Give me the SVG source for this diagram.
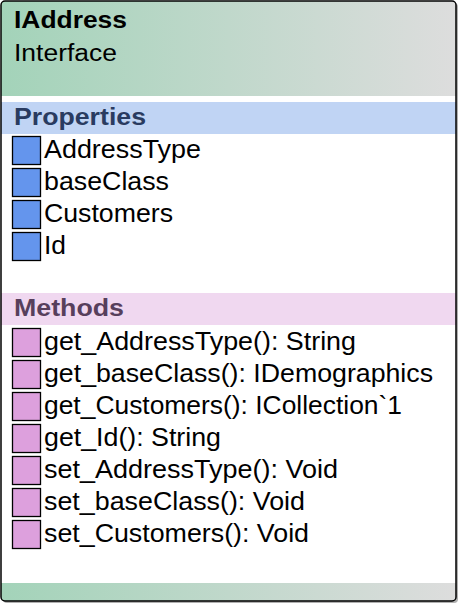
<svg xmlns="http://www.w3.org/2000/svg" width="463" height="608" viewBox="0 0 463 608">
<style>
.t{font-family:"Liberation Sans",Arial,sans-serif;}
.hd{font-size:23.5px;font-weight:bold;}
.sub{font-size:23.5px;}
.it{font-size:25.5px;fill:#000;}
.pb{fill:#6495ed;stroke:#000;stroke-width:1.3;}
.mb{fill:#dda0dd;stroke:#000;stroke-width:1.3;}
</style>
<defs>
<linearGradient id="hg" x1="0" y1="0" x2="1" y2="0">
<stop offset="0" stop-color="#a3d3b9"/>
<stop offset="1" stop-color="#dddddd"/>
</linearGradient>
<clipPath id="cl"><rect x="1" y="1" width="455" height="600" rx="4"/></clipPath>
</defs>
<g id="shadow"><rect x="3" y="3" width="455" height="600" rx="4" fill="#b0b0b0"/></g>
<g id="node-IAddress">
<rect x="1" y="1" width="455" height="600" rx="4" fill="#fff"/>
<g clip-path="url(#cl)">
<rect x="1" y="1" width="455" height="95" fill="url(#hg)"/>
<rect x="1" y="102" width="455" height="32" fill="#c0d4f4"/>
<rect x="1" y="293" width="455" height="32" fill="#f0d8f0"/>
<rect x="1" y="583" width="455" height="18" fill="url(#hg)"/>
</g>
<rect x="1" y="1" width="455" height="600" rx="4" fill="none" stroke="#000" stroke-width="1.5"/>
<text class="t hd" x="14" y="28" textLength="113" lengthAdjust="spacingAndGlyphs">IAddress</text>
<text class="t sub" x="14" y="61" textLength="103" lengthAdjust="spacingAndGlyphs">Interface</text>
<text class="t hd" x="14" y="125" fill="#293b60" textLength="132" lengthAdjust="spacingAndGlyphs">Properties</text>
<text class="t hd" x="14" y="316" fill="#573f5c" textLength="110" lengthAdjust="spacingAndGlyphs">Methods</text>
<g id="properties">
<rect class="pb" x="12.5" y="136.5" width="28" height="28"/>
<rect class="pb" x="12.5" y="168.5" width="28" height="28"/>
<rect class="pb" x="12.5" y="200.5" width="28" height="28"/>
<rect class="pb" x="12.5" y="232.5" width="28" height="28"/>
<text class="t it" x="44" y="157.5" textLength="157" lengthAdjust="spacingAndGlyphs">AddressType</text>
<text class="t it" x="44" y="189.5" textLength="125" lengthAdjust="spacingAndGlyphs">baseClass</text>
<text class="t it" x="44" y="221.5" textLength="129" lengthAdjust="spacingAndGlyphs">Customers</text>
<text class="t it" x="44" y="253.5" textLength="22" lengthAdjust="spacingAndGlyphs">Id</text>
</g>
<g id="methods">
<rect class="mb" x="12.5" y="328.5" width="28" height="28"/>
<rect class="mb" x="12.5" y="360.5" width="28" height="28"/>
<rect class="mb" x="12.5" y="392.5" width="28" height="28"/>
<rect class="mb" x="12.5" y="424.5" width="28" height="28"/>
<rect class="mb" x="12.5" y="456.5" width="28" height="28"/>
<rect class="mb" x="12.5" y="488.5" width="28" height="28"/>
<rect class="mb" x="12.5" y="520.5" width="28" height="28"/>
<text class="t it" x="44" y="349.5" textLength="312" lengthAdjust="spacingAndGlyphs">get_AddressType(): String</text>
<text class="t it" x="44" y="381.5" textLength="389" lengthAdjust="spacingAndGlyphs">get_baseClass(): IDemographics</text>
<text class="t it" x="44" y="413.5" textLength="358" lengthAdjust="spacingAndGlyphs">get_Customers(): ICollection`1</text>
<text class="t it" x="44" y="445.5" textLength="177" lengthAdjust="spacingAndGlyphs">get_Id(): String</text>
<text class="t it" x="44" y="477.5" textLength="294" lengthAdjust="spacingAndGlyphs">set_AddressType(): Void</text>
<text class="t it" x="44" y="509.5" textLength="261" lengthAdjust="spacingAndGlyphs">set_baseClass(): Void</text>
<text class="t it" x="44" y="541.5" textLength="265" lengthAdjust="spacingAndGlyphs">set_Customers(): Void</text>
</g>
</g>
<g id="connectors"/>
</svg>
